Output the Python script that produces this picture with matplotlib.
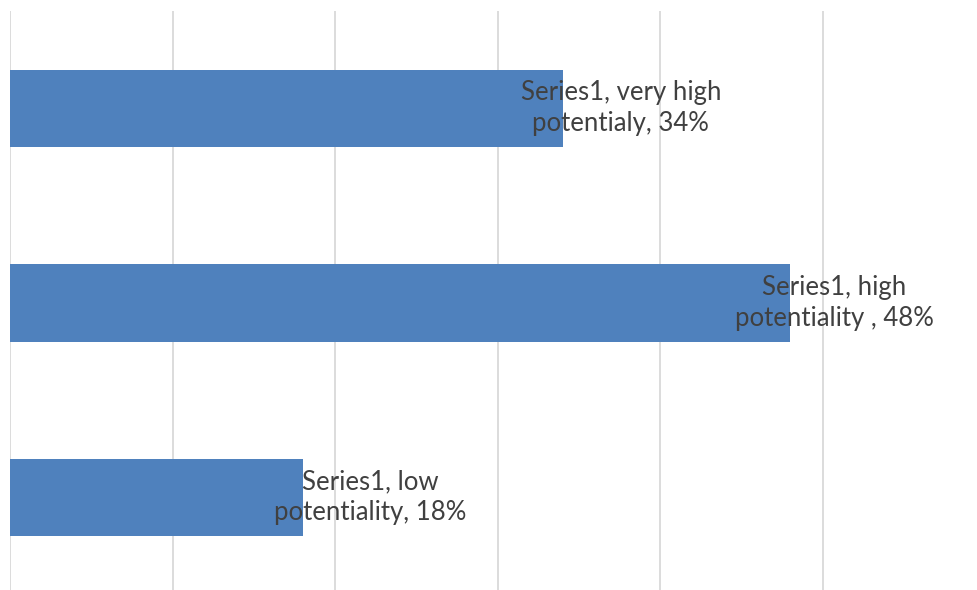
import matplotlib
matplotlib.use("Agg")
import matplotlib.pyplot as plt

series_name = "Series1"
categories = ["very high\npotentialy", "high\npotentiality ", "low\npotentiality"]
values = [34, 48, 18]
# label shift right of the bar end, in points
label_shift = [42, 32, 49]

plt.rcParams['font.family'] = ['Lato', 'DejaVu Sans']

fig = plt.figure(figsize=(9.77, 5.90), dpi=100)
ax = fig.add_axes([10 / 977, -0.008, 1 - 10 / 977, 0.989])

ypos = list(range(len(values)))
ax.barh(ypos, values, height=0.4, color="#4F81BD", zorder=2)

for y, v, cat, dx in zip(ypos, values, categories, label_shift):
    ax.annotate("{}, {}, {}%".format(series_name, cat, v), xy=(v, y),
                xytext=(dx, 0), textcoords="offset points",
                ha="center", va="center", multialignment="center",
                fontsize=18.5, color="#404040", linespacing=1.3, zorder=3)

ax.set_xlim(0, 59.5)
ax.set_ylim(2.5, -0.5)
ax.set_xticks(range(0, 60, 10))
ax.grid(axis="x", color="#D9D9D9", linewidth=1.3, zorder=0)
ax.tick_params(left=False, bottom=False, labelleft=False, labelbottom=False)
for s in ax.spines.values():
    s.set_visible(False)

fig.savefig("out.png", dpi=100)
